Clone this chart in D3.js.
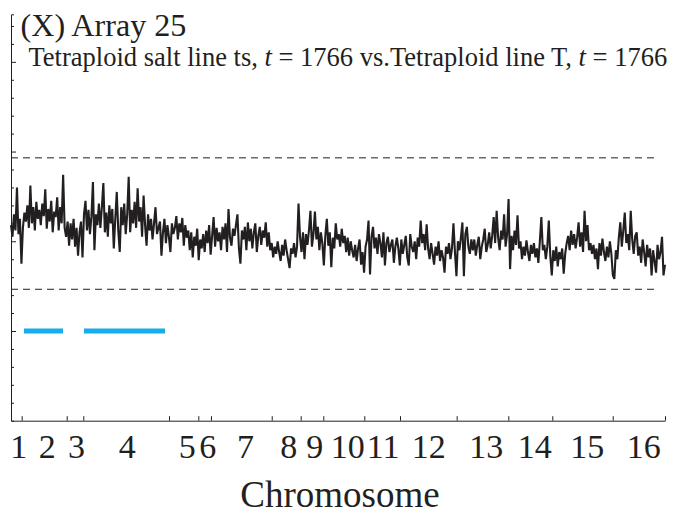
<!DOCTYPE html>
<html><head><meta charset="utf-8">
<script src="https://cdn.jsdelivr.net/npm/d3@7"></script>
</head><body style="margin:0;background:#fff">
<svg id="chart" width="675" height="515" style="display:block"></svg>
<script>
// ---------------- data ----------------
const chromosomeNames = ["1","2","3","4","5","6","7","8","9","10","11","12","13","14","15","16"];
// chromosome end positions along the genome axis (kb)
const chromosomeEnds = [197,1028,1334,2916,3457,3691,4812,5347,5764,6521,7180,8226,9179,9991,11106,12071];
// where each chromosome number is printed (kb)
const labelPositions = [135,659,1200,2136,3243,3623,4319,5118,5598,6207,6860,7702,8762,9659,10626,11670];
const genomeLength = 12071;
// ratio profile, evenly spaced along the genome
const profile = [
0.18,0.05,0.30,0.12,0.60,0.08,0.25,-0.25,0.15,0.32,
0.22,0.40,0.15,0.62,0.20,0.38,0.12,0.44,0.25,0.35,
0.18,0.42,0.28,0.58,0.14,0.36,0.22,0.45,0.10,0.33,
0.27,0.49,0.12,0.38,0.20,0.74,0.15,0.05,0.22,-0.05,
0.20,0.02,0.25,-0.06,0.15,-0.16,0.10,0.22,-0.18,0.30,
0.45,0.12,0.35,0.08,0.28,0.66,-0.10,0.30,0.18,0.42,
0.15,0.38,0.65,0.10,0.32,0.05,0.40,0.20,0.36,-0.08,
0.25,0.55,0.12,-0.12,0.38,0.18,0.42,0.08,0.30,0.72,
0.10,0.35,0.20,0.44,0.15,0.59,0.22,0.38,0.05,0.51,
0.18,-0.05,0.30,0.12,0.25,0.02,0.20,0.38,0.08,0.15,
0.22,-0.16,0.10,0.25,-0.02,0.18,0.05,-0.12,0.20,0.08,
0.15,0.28,0.02,0.20,0.10,0.26,-0.05,0.18,0.04,0.12,
-0.10,0.10,-0.18,0.05,-0.05,0.14,-0.21,0.02,-0.08,0.08,
-0.12,0.12,-0.02,0.18,-0.15,0.06,0.27,-0.06,0.15,0.00,
0.10,-0.10,0.16,0.02,0.20,-0.12,0.36,0.04,-0.05,0.14,
0.06,0.18,0.30,-0.08,-0.25,0.12,0.02,0.16,-0.10,0.21,
0.00,0.14,-0.08,0.10,0.20,-0.12,0.06,0.16,-0.04,0.12,
0.04,0.21,-0.06,0.10,-0.10,-0.02,-0.18,-0.06,-0.14,0.00,
-0.12,-0.22,-0.04,-0.16,0.02,-0.10,-0.20,-0.30,-0.08,-0.14,
-0.02,-0.18,-0.06,0.42,0.05,-0.12,0.10,-0.20,0.08,-0.04,
0.12,0.34,-0.06,0.08,0.33,0.02,0.16,-0.10,0.10,-0.02,
-0.27,0.06,0.25,-0.05,0.10,-0.29,0.04,-0.08,0.20,0.02,
0.08,-0.06,0.14,-0.02,0.06,-0.12,0.04,-0.16,0.00,-0.10,
-0.18,-0.04,-0.22,-0.08,0.02,-0.26,-0.12,-0.35,-0.06,0.02,
0.23,-0.37,0.05,0.16,-0.08,0.04,-0.14,0.08,-0.02,-0.18,
0.10,-0.27,-0.02,0.05,-0.12,-0.04,0.02,-0.24,-0.06,0.04,
-0.08,-0.27,0.02,-0.14,-0.04,0.06,-0.18,-0.27,0.08,-0.06,
-0.12,0.00,-0.20,0.04,-0.06,0.23,-0.02,0.08,-0.10,0.19,
-0.08,-0.20,-0.02,-0.14,-0.26,-0.06,-0.16,0.00,-0.22,-0.10,
-0.18,-0.35,-0.06,-0.14,-0.02,-0.20,-0.08,0.20,-0.12,-0.39,
0.00,-0.10,0.04,0.21,-0.39,0.08,0.16,-0.06,-0.14,0.02,
-0.10,0.02,-0.16,-0.04,0.05,-0.20,-0.06,0.02,0.14,-0.12,
-0.04,0.10,-0.08,0.06,0.27,-0.02,0.34,0.04,-0.10,0.12,
0.02,0.30,-0.06,0.08,0.47,-0.31,0.06,-0.10,0.12,-0.04,
0.29,-0.08,0.00,-0.20,-0.06,-0.16,0.01,-0.12,-0.22,-0.04,
-0.14,-0.02,-0.18,-0.08,-0.24,0.00,0.27,-0.10,-0.04,-0.20,
-0.06,0.23,-0.16,-0.38,-0.10,-0.22,-0.06,-0.28,-0.12,-0.20,
-0.08,-0.36,-0.14,-0.02,0.06,-0.10,0.12,-0.04,0.08,-0.08,
0.04,0.21,-0.06,0.10,-0.12,0.34,0.00,0.18,-0.10,-0.02,
-0.14,-0.04,-0.20,-0.08,-0.31,-0.02,-0.16,0.03,-0.12,-0.22,
-0.06,-0.18,0.00,-0.14,-0.38,-0.42,-0.10,-0.20,0.04,0.21,
-0.06,0.12,0.32,-0.02,0.08,-0.10,0.34,0.02,-0.14,0.06,
0.10,-0.16,-0.06,-0.24,0.02,-0.12,-0.28,-0.04,-0.18,-0.08,
-0.38,-0.10,-0.22,-0.35,-0.04,-0.20,-0.12,0.05,-0.38,-0.26
];
const thresholdLevels = [0.93, -0.535];
const segmentStarts = [240, 1347];
const segmentEnds = [960, 2842];
const segmentLevels = [-1, -1];
const titleText = "(X) Array 25";
const xTitle = "Chromosome";

// ---------------- drawing ----------------
const FONT = '"Liberation Serif"';
const svg = d3.select("#chart");
const ink = "#231f20";
const x = d3.scaleLinear().domain([0, genomeLength]).range([11, 665]);
const y = d3.scaleLinear().domain([-2, 2.53]).range([420.7, 14.3]);

// y axis (inward ticks, no labels)
const yMinor = d3.range(-18, 25, 2).map(v => v / 10);
const yAxisG = svg.append("g").attr("transform", "translate(11,0)")
  .call(d3.axisRight(y).tickValues(yMinor).tickFormat("").tickSizeOuter(0).tickSize(3));
yAxisG.selectAll(".tick line").attr("x2", d => Math.abs(d - Math.round(d)) < 1e-6 ? 5 : 3);
yAxisG.select(".domain").attr("stroke", ink);
yAxisG.selectAll(".tick line").attr("stroke", ink);

// x axis: ticks at chromosome ends (inward)
const xAxisG = svg.append("g").attr("transform", "translate(0,420.7)")
  .call(d3.axisBottom(x).tickValues(chromosomeEnds).tickFormat("").tickSize(-4.5).tickSizeOuter(0));
xAxisG.select(".domain").attr("stroke", ink);
xAxisG.selectAll(".tick line").attr("stroke", ink);

// x labels
const xLabG = svg.append("g").attr("transform", "translate(0,420.7)")
  .call(d3.axisBottom(x).tickValues(labelPositions).tickSize(0)
    .tickFormat((d, i) => chromosomeNames[i]));
xLabG.select(".domain").remove();
xLabG.selectAll("text").attr("dy", null).attr("y", 37.5).attr("fill", ink)
  .attr("font-family", FONT).attr("font-size", 34);

// threshold lines
svg.append("g").selectAll("line").data(thresholdLevels).join("line")
  .attr("x1", 11).attr("x2", 659)
  .attr("y1", d => y(d)).attr("y2", d => y(d))
  .attr("stroke", ink).attr("stroke-width", 1).attr("stroke-dasharray", "7,5");

// segments
svg.append("g").selectAll("line").data(segmentStarts).join("line")
  .attr("x1", d => x(d)).attr("x2", (d, i) => x(segmentEnds[i]))
  .attr("y1", (d, i) => y(segmentLevels[i])).attr("y2", (d, i) => y(segmentLevels[i]))
  .attr("stroke", "#14aeea").attr("stroke-width", 5);

// profile line
const step = genomeLength / (profile.length - 1);
svg.append("path").datum(profile)
  .attr("fill", "none").attr("stroke", ink).attr("stroke-width", 2.1)
  .attr("stroke-linejoin", "miter").attr("stroke-miterlimit", 3)
  .attr("d", d3.line().x((d, i) => x(i * step)).y(d => y(d)));

// titles
const title = svg.append("text").attr("x", 20.5).attr("y", 36).attr("font-size", 30)
  .attr("font-family", FONT).attr("fill", ink).text(titleText);
title.attr("font-size", 30 * 166 / title.node().getComputedTextLength());

const sub = svg.append("text").attr("x", 28.5).attr("y", 65.5).attr("font-size", 20)
  .attr("font-family", FONT).attr("fill", ink);
sub.append("tspan").text("Tetraploid salt line ts, ");
sub.append("tspan").attr("font-style", "italic").text("t");
sub.append("tspan").text(" = 1766 vs.Tetraploid line T, ");
sub.append("tspan").attr("font-style", "italic").text("t");
sub.append("tspan").text(" = 1766");
sub.attr("font-size", 20 * 639 / sub.node().getComputedTextLength());

svg.append("text").attr("x", 340).attr("y", 506.5).attr("text-anchor", "middle")
  .attr("font-family", FONT).attr("fill", ink).attr("font-size", 37).text(xTitle);
</script>
</body></html>
